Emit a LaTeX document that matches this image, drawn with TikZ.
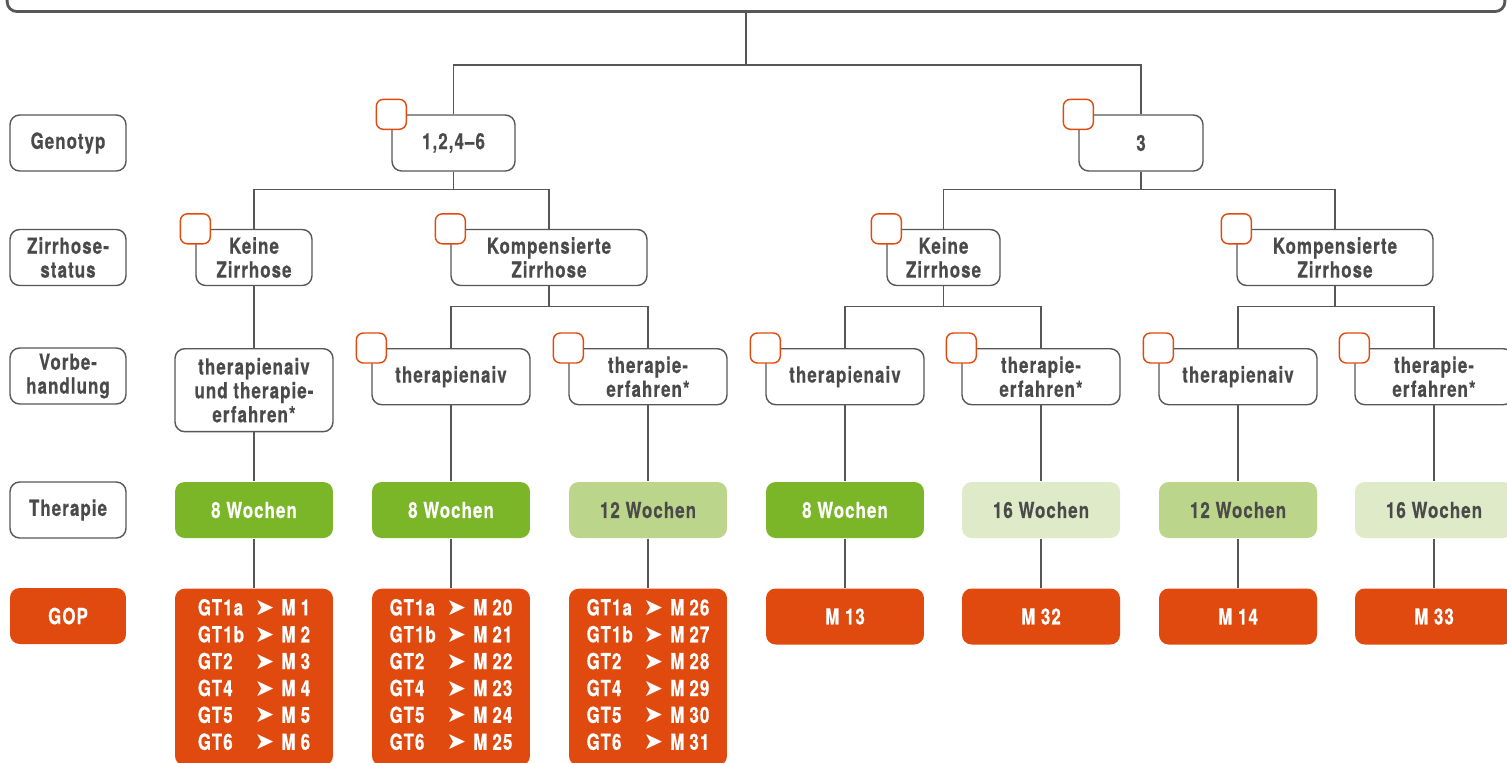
\documentclass[tikz,border=0pt]{standalone}
\usepackage{fontspec}
\setmainfont{TeX Gyre Heros}[FakeStretch=0.76, LetterSpace=5, BoldFeatures={FakeBold=0.6}]
\newfontfamily\arrowfont{DejaVu Sans}
\usetikzlibrary{positioning}
\definecolor{linegray}{HTML}{575757}
\definecolor{textgray}{HTML}{4A4A4A}
\definecolor{gopred}{HTML}{E04A0F}
\definecolor{weekgreen}{HTML}{7AB628}
\definecolor{weeklight}{HTML}{BBD58A}
\definecolor{weekpale}{HTML}{DFEAC8}
\newcommand{\goprow}[2]{#1 & {\arrowfont\fontsize{13.5}{13.5}\selectfont\symbol{"27A4}} & M\hspace{3pt}#2\\}
\tikzset{% common styles of the scheme
  choice/.style   = {shape=rectangle, rounded corners=5.5pt,
                     draw=linegray, line width=0.8pt, fill=white,
                     align=center, text=textgray,
                     font=\bfseries\fontsize{12.6}{13.6}\selectfont,
                     minimum width=3.16cm, minimum height=1.12cm, inner sep=1pt},
  rowlabel/.style = {choice, minimum width=2.32cm},
  marker/.style   = {shape=rectangle, rounded corners=4pt, draw=gopred,
                     line width=0.8pt, fill=white, minimum size=0.6cm, inner sep=0pt},
  weeks/.style    = {choice, draw=none, fill=#1},
  gop/.style      = {choice, draw=none, fill=gopred, text=white},
  goplist/.style  = {gop, anchor=north, minimum height=3.54cm,
                     font=\bfseries\fontsize{12.6}{15.3}\selectfont},
  link/.style     = {draw=linegray, line width=0.8pt},
}

\begin{document}
\begin{tikzpicture}[x=0.02cm, y=-0.02cm]
  \useasboundingbox (0,0) rectangle (1507,762);
  \clip (0,0) rectangle (1507,762);
  % frame at the top, cut by the page
  \node [choice, line width=1.6pt, minimum width=29.96cm, minimum height=1.1cm] (head) at (756,-16) {};
  % row labels
  \node [rowlabel] (lgeno) at (68,143)   {Genotyp};
  \node [rowlabel] (lzirr) at (68,257.5) {Zirrhose-\\status};
  \node [rowlabel] (lvor)  at (68,376)   {Vorbe-\\handlung};
  \node [rowlabel] (lther) at (68,510)   {Therapie};
  \node [gop, minimum width=2.32cm] (lgop) at (68,616) {GOP};
  % genotype
  \node [choice, minimum width=2.46cm] (g1) at (453.5,143) {1,2,4–6};
  \node [choice, minimum width=2.48cm] (g3) at (1141,143)  {3};
  % cirrhosis status
  \node [choice, minimum width=2.32cm] (z1) at (254,257.5)   {Keine\\Zirrhose};
  \node [choice, minimum width=3.92cm] (z2) at (549,257.5)   {Kompensierte\\Zirrhose};
  \node [choice, minimum width=2.26cm] (z3) at (943.5,257.5) {Keine\\Zirrhose};
  \node [choice, minimum width=3.92cm] (z4) at (1335,257.5)  {Kompensierte\\Zirrhose};
  % pretreatment
  \node [choice, anchor=north, minimum height=1.66cm] (v1) at (254,348)
        {therapienaiv\\und therapie-\\erfahren*};
  \foreach \i/\x/\txt in {2/451/therapienaiv, 3/648/{therapie-\\erfahren*},
                          4/845/therapienaiv, 5/1041/{therapie-\\erfahren*},
                          6/1238/therapienaiv, 7/1434/{therapie-\\erfahren*}}
    \node [choice, anchor=north] (v\i) at (\x,348) {\txt};
  % therapy duration
  \foreach \i/\x/\col/\tcol/\wk in {1/254/weekgreen/white/8, 2/451/weekgreen/white/8,
                                    3/648/weeklight/textgray/12, 4/845/weekgreen/white/8,
                                    5/1041/weekpale/textgray/16, 6/1238/weeklight/textgray/12,
                                    7/1434/weekpale/textgray/16}
    \node [weeks=\col, text=\tcol] (t\i) at (\x,510) {\wk{} Wochen};
  % GOP
  \node [goplist] (p1) at (254,588) {\begin{tabular}{@{}l@{\hspace{6pt}}c@{\hspace{4pt}}l@{}}
      \goprow{GT1a}{1}\goprow{GT1b}{2}\goprow{GT2}{3}
      \goprow{GT4}{4}\goprow{GT5}{5}\goprow{GT6}{6}\end{tabular}};
  \node [goplist] (p2) at (451,588) {\begin{tabular}{@{}l@{\hspace{6pt}}c@{\hspace{4pt}}l@{}}
      \goprow{GT1a}{20}\goprow{GT1b}{21}\goprow{GT2}{22}
      \goprow{GT4}{23}\goprow{GT5}{24}\goprow{GT6}{25}\end{tabular}};
  \node [goplist] (p3) at (648,588) {\begin{tabular}{@{}l@{\hspace{6pt}}c@{\hspace{4pt}}l@{}}
      \goprow{GT1a}{26}\goprow{GT1b}{27}\goprow{GT2}{28}
      \goprow{GT4}{29}\goprow{GT5}{30}\goprow{GT6}{31}\end{tabular}};
  \foreach \i/\x/\m in {4/845/13, 5/1041/32, 6/1238/14, 7/1434/33}
    \node [gop] (p\i) at (\x,616.5) {M \m};
  % connectors
  \coordinate (split) at (746,65);
  \draw [link] (head.south -| split) -- (split);
  \draw [link] (g1.north) |- (split) -| (g3.north);
  \draw [link] (g1.south) -- ++(0,18) -| (z1.north);
  \draw [link] (g1.south) -- ++(0,18) -| (z2.north);
  \draw [link] (g3.south) -- ++(0,18) -| (z3.north);
  \draw [link] (g3.south) -- ++(0,18) -| (z4.north);
  \draw [link] (z1.south) -- (v1.north);
  \draw [link] (z2.south) -- ++(0,20) -| (v2.north);
  \draw [link] (z2.south) -- ++(0,20) -| (v3.north);
  \draw [link] (z3.south) -- ++(0,20) -| (v4.north);
  \draw [link] (z3.south) -- ++(0,20) -| (v5.north);
  \draw [link] (z4.south) -- ++(0,20) -| (v6.north);
  \draw [link] (z4.south) -- ++(0,20) -| (v7.north);
  \foreach \i in {1,...,7}
    \draw [link] (v\i.south) -- (t\i.north) (t\i.south) -- (p\i.north);
  % orange markers on the corners
  \foreach \n in {g1,g3,z1,z2,z3,z4,v2,v3,v4,v5,v6,v7}
    \node [marker] at (\n.north west) {};
\end{tikzpicture}
\end{document}
